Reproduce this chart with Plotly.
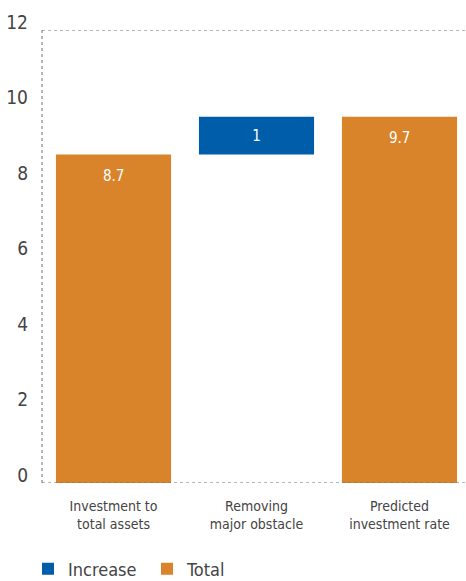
import plotly.graph_objects as go

categories = ["Investment to<br>total assets", "Removing<br>major obstacle", "Predicted<br>investment rate"]
total_x = [categories[0], categories[2]]
total_values = [8.7, 9.7]
increase_x = [categories[1]]
increase_base = [8.7]
increase_values = [1.0]
y_ticks = [0, 2, 4, 6, 8, 10, 12]

FONT = "DejaVu Sans Condensed, Liberation Sans Narrow, sans-serif"
BLUE = "#005DAA"
ORANGE = "#D9832A"
GRID = "#6f6f6f"
TXT = "#444444"

fig = go.Figure()
fig.add_trace(go.Bar(
    x=increase_x, y=increase_values, base=increase_base, name="Increase",
    marker=dict(color=BLUE, line=dict(width=0)),
    texttemplate="%{y}", textposition="inside", insidetextanchor="middle",
    textfont=dict(color="white", size=15, family=FONT),
))
fig.add_trace(go.Bar(
    x=total_x, y=total_values, name="Total",
    marker=dict(color=ORANGE, line=dict(width=0)),
))

# value labels for totals, placed just below each bar top
for xv, yv in zip(total_x, total_values):
    fig.add_annotation(x=xv, y=yv, text=str(yv), showarrow=False, yshift=-21,
                       yanchor="middle", font=dict(color="white", size=15, family=FONT))

# dotted frame lines (top, left, bottom)
for x0, x1, y0, y1 in [(0, 1, 12, 12), (0, 0, 0, 12), (0, 1, 0, 0)]:
    fig.add_shape(type="line", xref="paper", yref="y", x0=x0, x1=x1, y0=y0, y1=y1,
                  line=dict(color=GRID, width=1, dash="dot"), layer="above")

fig.update_layout(
    width=466, height=581,
    margin=dict(l=42, r=0, t=30, b=98, autoexpand=False),
    paper_bgcolor="white", plot_bgcolor="white",
    barmode="overlay", bargap=0.195,
    font=dict(family=FONT, color=TXT),
    showlegend=True,
    legend=dict(orientation="h", x=-0.033, xanchor="left", y=-0.19, yanchor="middle",
                font=dict(size=18, color=TXT, family=FONT),
                entrywidth=74, entrywidthmode="pixels", traceorder="normal"),
    xaxis=dict(categoryorder="array", categoryarray=categories,
               range=[-0.5, 2.465], automargin=False,
               showline=False, showgrid=False, zeroline=False, ticks="",
               tickfont=dict(size=14, color=TXT, family=FONT),
               ticklabelstandoff=13),
    yaxis=dict(range=[0, 12], tickvals=y_ticks, showgrid=False, zeroline=False,
               automargin=False, showline=False,
               ticks="", tickfont=dict(size=19, color=TXT, family=FONT),
               ticklabelstandoff=13, ticklabelshift=-8),
)
fig.write_html("out.html", config={"displayModeBar": False},
               post_script="document.body.style.margin='0';document.body.style.overflow='hidden';")
